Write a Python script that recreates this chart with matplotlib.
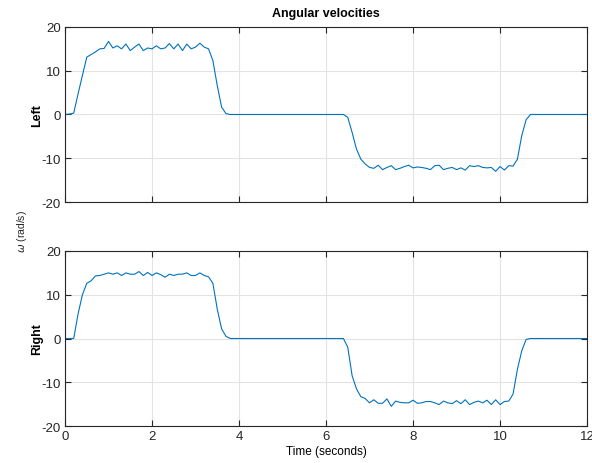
import numpy as np
import matplotlib.pyplot as plt

plt.rcParams['font.family'] = ['Liberation Sans', 'DejaVu Sans']
plt.rcParams['axes.unicode_minus'] = False

# sample times (s), 0.1 s step
tempo = np.round(np.arange(0, 12.05, 0.1), 1)

left_rise = [0.0, 0.1, 0.3, 4.7, 8.9, 13.1, 13.7, 14.3, 15.0, 15.1,
             16.7, 15.2, 15.7, 15.0, 16.1, 14.6, 15.4, 16.1, 14.6, 15.2,
             15.0, 15.7, 15.0, 15.2, 16.2, 15.0, 16.1, 14.6, 16.1, 15.0,
             15.4, 16.3, 15.4, 15.0, 12.3, 6.6, 1.7, 0.2]
left_fall = [-0.65, -4.1, -7.9, -10.2, -11.3, -12.1, -12.3, -11.6, -12.6, -12.1,
             -11.7, -12.6, -12.3, -11.9, -11.6, -12.2, -12.0, -12.1, -12.3, -12.6,
             -11.7, -11.6, -12.6, -12.3, -12.1, -12.6, -12.2, -12.7, -11.7, -11.9,
             -11.7, -12.1, -12.2, -12.1, -13.0, -11.9, -12.7, -11.7, -11.8, -10.2,
             -4.8, -1.2]

right_rise = [0.0, 0.0, 0.0, 5.6, 10.0, 12.6, 13.2, 14.3, 14.4, 14.7,
              15.0, 14.7, 15.0, 14.4, 15.0, 14.7, 14.7, 15.3, 14.4, 15.1,
              14.4, 15.0, 14.6, 14.0, 14.7, 14.4, 14.7, 14.7, 15.0, 14.4,
              14.4, 15.0, 14.4, 14.1, 12.6, 6.7, 2.2, 0.5]
right_fall = [-2.0, -8.5, -11.5, -13.3, -13.7, -14.7, -14.0, -14.8, -14.8, -13.8,
              -15.5, -14.3, -14.6, -14.7, -14.7, -14.1, -14.8, -14.7, -14.4, -14.4,
              -14.7, -15.1, -14.3, -14.7, -14.9, -14.2, -14.9, -14.0, -15.1, -14.6,
              -14.3, -14.7, -14.1, -15.1, -14.0, -15.1, -14.4, -14.3, -12.7, -7.0,
              -2.8, -0.2]


def montar(subida, descida):
    # 0..3.7 rise, zeros to 6.4, 6.5..10.6 fall, zeros to 12
    zeros1 = [0.0] * (65 - len(subida))
    zeros2 = [0.0] * (121 - 65 - len(descida))
    return np.array(subida + zeros1 + descida + zeros2)


omega_left = montar(left_rise, left_fall)
omega_right = montar(right_rise, right_fall)

fig = plt.figure(figsize=(5.92, 4.64), dpi=100)
ax1 = fig.add_axes([0.1098, 0.5625, 0.8818, 0.3772])
ax2 = fig.add_axes([0.1098, 0.0797, 0.8818, 0.3772])

for ax, dados, nome in [(ax1, omega_left, "Left"), (ax2, omega_right, "Right")]:
    ax.plot(tempo, dados, color="#0072BD", linewidth=0.8)
    ax.set_xlim(0, 12)
    ax.set_ylim(-20, 20)
    ax.set_xticks(range(0, 13, 2))
    ax.set_yticks([-20, -10, 0, 10, 20])
    ax.grid(True, color="#e3e3e3", linewidth=0.8)
    ax.set_axisbelow(True)
    ax.tick_params(direction="in", length=4, width=0.8, top=True, right=True,
                   labelsize=9.5, colors="#262626", pad=3)
    for s in ax.spines.values():
        s.set_color("#262626")
        s.set_linewidth(0.8)
    ax.set_ylabel(nome, fontsize=9, fontweight="bold", labelpad=-1)

ax1.tick_params(labelbottom=False)
ax1.set_title("Angular velocities", fontsize=9, fontweight="bold", pad=8)
ax2.set_xlabel("Time (seconds)", fontsize=8.5, labelpad=2)

fig.text(0.037, 0.5, r"$\omega$ (rad/s)", rotation=90, fontsize=7.5,
         color="#262626", ha="center", va="center")

fig.savefig("out.png", dpi=100)
